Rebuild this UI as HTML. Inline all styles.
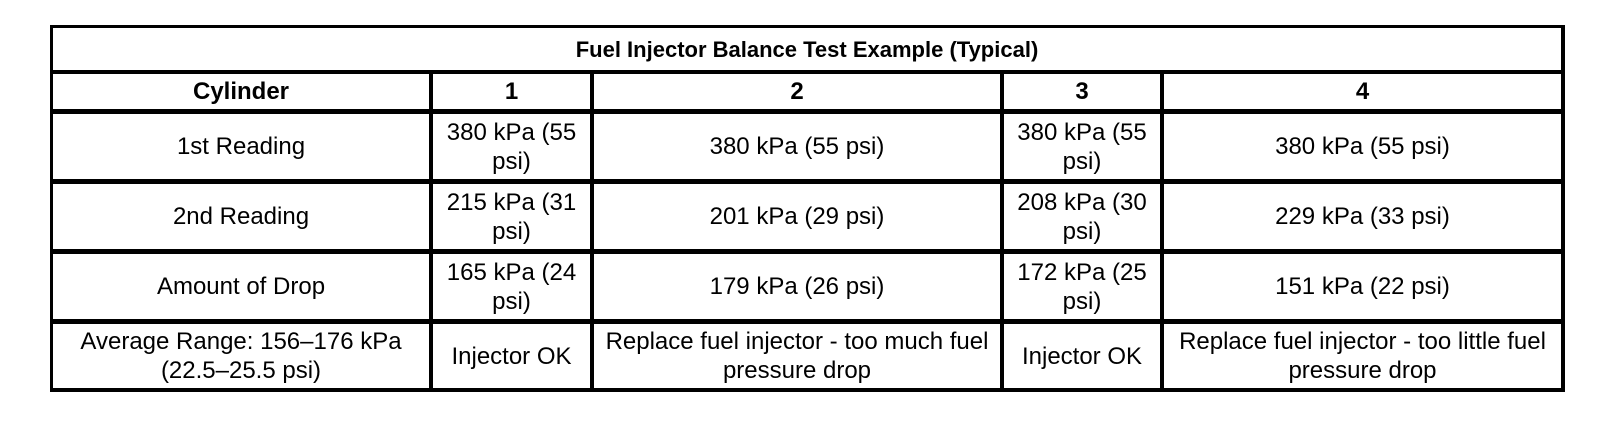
<!DOCTYPE html>
<html><head><style>
body{margin:0;width:1600px;height:424px;background:#fff;position:relative;overflow:hidden;font-family:"Liberation Sans",Arial,sans-serif;color:#000}
.h{position:absolute;background:#000;height:4px}
.v{position:absolute;background:#000;width:4px}
.c{position:absolute;display:flex;align-items:center;justify-content:center;text-align:center;font-size:24px;line-height:29px;white-space:nowrap}
.b{font-weight:bold}
</style></head><body>
<div class="h" style="left:50px;width:1515px;top:25px;height:3px"></div>
<div class="h" style="left:50px;width:1515px;top:70px;height:4px"></div>
<div class="h" style="left:50px;width:1515px;top:109px;height:5px"></div>
<div class="h" style="left:50px;width:1515px;top:179px;height:5px"></div>
<div class="h" style="left:50px;width:1515px;top:249px;height:5px"></div>
<div class="h" style="left:50px;width:1515px;top:319px;height:5px"></div>
<div class="h" style="left:50px;width:1515px;top:388px;height:4px"></div>
<div class="v" style="left:50px;top:25px;height:367px;width:3px"></div>
<div class="v" style="left:1561px;top:25px;height:367px;width:4px"></div>
<div class="v" style="left:429px;top:72px;height:320px"></div>
<div class="v" style="left:590px;top:72px;height:320px"></div>
<div class="v" style="left:1000px;top:72px;height:320px"></div>
<div class="v" style="left:1160px;top:72px;height:320px"></div>

<div class="c b" style="left:53px;width:1508px;top:28px;height:42px;font-size:22px">Fuel Injector Balance Test Example (Typical)</div>

<div class="c b" style="left:53px;width:376px;top:74px;height:35px">Cylinder</div>
<div class="c b" style="left:433px;width:157px;top:74px;height:35px">1</div>
<div class="c b" style="left:594px;width:406px;top:74px;height:35px">2</div>
<div class="c b" style="left:1004px;width:156px;top:74px;height:35px">3</div>
<div class="c b" style="left:1164px;width:397px;top:74px;height:35px">4</div>

<div class="c" style="left:53px;width:376px;top:114px;height:65px">1st Reading</div>
<div class="c" style="left:433px;width:157px;top:114px;height:65px">380 kPa (55<br>psi)</div>
<div class="c" style="left:594px;width:406px;top:114px;height:65px">380 kPa (55 psi)</div>
<div class="c" style="left:1004px;width:156px;top:114px;height:65px">380 kPa (55<br>psi)</div>
<div class="c" style="left:1164px;width:397px;top:114px;height:65px">380 kPa (55 psi)</div>

<div class="c" style="left:53px;width:376px;top:184px;height:65px">2nd Reading</div>
<div class="c" style="left:433px;width:157px;top:184px;height:65px">215 kPa (31<br>psi)</div>
<div class="c" style="left:594px;width:406px;top:184px;height:65px">201 kPa (29 psi)</div>
<div class="c" style="left:1004px;width:156px;top:184px;height:65px">208 kPa (30<br>psi)</div>
<div class="c" style="left:1164px;width:397px;top:184px;height:65px">229 kPa (33 psi)</div>

<div class="c" style="left:53px;width:376px;top:254px;height:65px">Amount of Drop</div>
<div class="c" style="left:433px;width:157px;top:254px;height:65px">165 kPa (24<br>psi)</div>
<div class="c" style="left:594px;width:406px;top:254px;height:65px">179 kPa (26 psi)</div>
<div class="c" style="left:1004px;width:156px;top:254px;height:65px">172 kPa (25<br>psi)</div>
<div class="c" style="left:1164px;width:397px;top:254px;height:65px">151 kPa (22 psi)</div>

<div class="c" style="left:53px;width:376px;top:324px;height:64px">Average Range: 156–176 kPa<br>(22.5–25.5 psi)</div>
<div class="c" style="left:433px;width:157px;top:324px;height:64px">Injector OK</div>
<div class="c" style="left:594px;width:406px;top:324px;height:64px">Replace fuel injector - too much fuel<br>pressure drop</div>
<div class="c" style="left:1004px;width:156px;top:324px;height:64px">Injector OK</div>
<div class="c" style="left:1164px;width:397px;top:324px;height:64px">Replace fuel injector - too little fuel<br>pressure drop</div>
</body></html>
